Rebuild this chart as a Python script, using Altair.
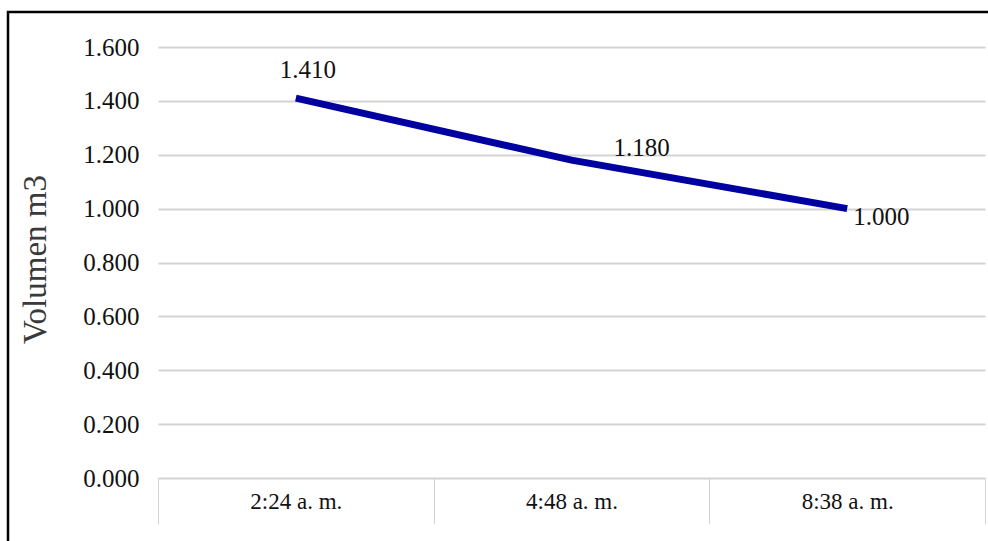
import altair as alt
import pandas as pd

horas = ["2:24 a. m.", "4:48 a. m.", "8:38 a. m."]
volumen = [1.410, 1.180, 1.000]
etiquetas = ["1.410", "1.180", "1.000"]
y_ticks = [0.0, 0.2, 0.4, 0.6, 0.8, 1.0, 1.2, 1.4, 1.6]

df = pd.DataFrame({"hora": horas, "vol": volumen, "etiqueta": etiquetas})

FONT = "'Liberation Serif', 'Times New Roman', 'DejaVu Serif', serif"
GRID = "#d3d3d3"

x_enc = alt.X(
    "hora:N",
    sort=horas,
    bandPosition=0.5,
    scale=alt.Scale(type="band", paddingInner=0, paddingOuter=0),
    axis=alt.Axis(
        title=None,
        labelAngle=0,
        labelFont=FONT,
        labelFontSize=23,
        labelColor="#111111",
        labelPadding=-34,
        tickBand="extent",
        tickSize=46,
        tickColor=GRID,
        tickWidth=1,
        domain=False,
        grid=False,
    ),
)

y_enc = alt.Y(
    "vol:Q",
    scale=alt.Scale(domain=[0, 1.6], nice=False, zero=True),
    axis=alt.Axis(
        title="Volumen m3",
        titleFont=FONT,
        titleFontSize=33,
        titleFontWeight="normal",
        titleColor="#3a3a3a",
        titleAngle=-90,
        titleX=-123,
        titleY=212,
        titleAlign="center",
        titleBaseline="middle",
        values=y_ticks,
        format=".3f",
        labelFont=FONT,
        labelFontSize=25,
        labelColor="#111111",
        labelPadding=19,
        ticks=False,
        domain=False,
        grid=True,
        gridColor=GRID,
        gridWidth=2,
    ),
)

base = alt.Chart(df)

line = base.mark_line(color="#0000A0", strokeWidth=7, strokeCap="butt").encode(x=x_enc, y=y_enc)

def label(idx, align, dx, dy):
    return (
        base.transform_filter(alt.datum.hora == horas[idx])
        .mark_text(font=FONT, fontSize=25, color="#111111", align=align, baseline="middle", dx=dx, dy=dy)
        .encode(x=alt.X("hora:N", sort=horas, bandPosition=0.5), y="vol:Q", text="etiqueta:N")
    )

lab1 = label(0, "center", 12, -28)
lab2 = label(1, "left", 42, -12)
lab3 = label(2, "left", 6, 8)

frame = (
    alt.Chart(alt.Data(values=[{}]))
    .mark_rect(fill="transparent", stroke="black", strokeWidth=2.5)
    .encode(x=alt.value(-150), x2=alt.value(845), y=alt.value(-35), y2=alt.value(530))
)

chart = (
    alt.layer(line, lab1, lab2, lab3, frame)
    .properties(
        width=827,
        height=431,
        padding={"left": 158, "top": 47, "right": 3, "bottom": 63},
        autosize=alt.AutoSizeParams(type="none"),
        background="white",
    )
    .configure_view(stroke=None)
)

chart.save("out.html", embed_options={"renderer": "svg", "actions": False})
